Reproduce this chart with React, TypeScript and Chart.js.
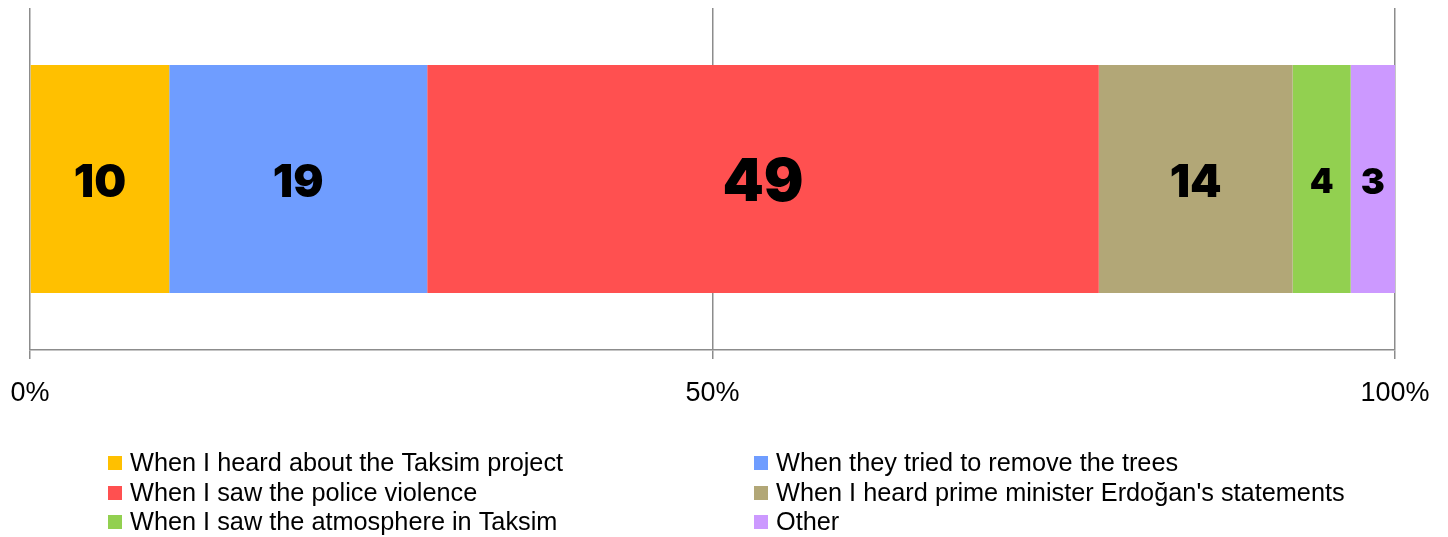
import React, { useEffect, useRef } from "react";
import { Chart, registerables } from "chart.js";

Chart.register(...registerables);

const categories = ["Responses"];
const seriesLabels = [
  "When I heard about the Taksim project",
  "When they tried to remove the trees",
  "When I saw the police violence",
  "When I heard prime minister Erdoğan's statements",
  "When I saw the atmosphere in Taksim",
  "Other",
];
// shares (%); labels show them rounded
const seriesValues = [10.2, 18.9, 49.2, 14.2, 4.25, 3.25];
const seriesColors = ["#FFC000", "#6F9DFF", "#FF5050", "#B2A777", "#92D050", "#CC99FF"];
const valueLabelSizes = [45, 45, 59, 45, 34, 36];
const tickValues = [0, 50, 100];

const total = seriesValues.reduce((a, b) => a + b, 0);

const valueLabelPlugin = {
  id: "valueLabels",
  afterDatasetsDraw(chart: any) {
    const ctx = chart.ctx;
    ctx.save();
    ctx.fillStyle = "#000";
    ctx.textAlign = "center";
    ctx.textBaseline = "middle";
    chart.data.datasets.forEach((ds: any, i: number) => {
      const meta = chart.getDatasetMeta(i);
      meta.data.forEach((el: any) => {
        const props = el.getProps(["x", "y", "base"], true);
        const cx = (props.x + props.base) / 2;
        ctx.font = `900 ${valueLabelSizes[i]}px "Inter", "Roboto", "DejaVu Sans", sans-serif`;
        ctx.fillText(String(Math.round(seriesValues[i])), cx, props.y + 4);
      });
    });
    ctx.restore();
  },
};

const legendPlugin = {
  id: "gridLegend",
  afterDraw(chart: any) {
    const ctx = chart.ctx;
    ctx.save();
    const colX = [100, 746];
    const rowY = [455, 485, 514];
    ctx.font = `25.3px "Liberation Sans", Arial, sans-serif`;
    ctx.textBaseline = "middle";
    ctx.textAlign = "left";
    chart.data.datasets.forEach((ds: any, i: number) => {
      const x = colX[i % 2];
      const y = rowY[Math.floor(i / 2)];
      ctx.fillStyle = ds.backgroundColor;
      ctx.fillRect(x, y - 7, 14, 14);
      ctx.fillStyle = "#000";
      ctx.fillText(ds.label, x + 22, y + 1);
    });
    ctx.restore();
  },
};

export default function App() {
  const ref = useRef<HTMLCanvasElement>(null);
  useEffect(() => {
    if (!ref.current) return;
    const chart = new Chart(ref.current, {
      type: "bar",
      data: {
        labels: categories,
        datasets: seriesLabels.map((label, i) => ({
          label,
          data: [(seriesValues[i] / total) * 100],
          backgroundColor: seriesColors[i],
          borderWidth: 0,
          barPercentage: 0.667,
          categoryPercentage: 1,
        })),
      },
      options: {
        indexAxis: "y",
        animation: false,
        responsive: true,
        maintainAspectRatio: false,
        layout: { padding: { left: 22, right: 45, top: 0, bottom: 117 } },
        plugins: { legend: { display: false }, tooltip: { enabled: false } },
        scales: {
          x: {
            stacked: true,
            min: 0,
            max: 100,
            afterBuildTicks(scale: any) {
              scale.ticks = tickValues.map((v) => ({ value: v }));
            },
            afterFit(scale: any) {
              scale.height = 70;
              scale.paddingLeft = 0;
              scale.paddingRight = 0;
            },
            grid: {
              color: "#8c8c8c",
              lineWidth: 1.5,
              drawTicks: true,
              tickLength: 9,
              tickColor: "#8c8c8c",
            },
            border: { display: true, color: "#8c8c8c", width: 1.5 },
            ticks: {
              padding: 18,
              maxRotation: 0,
              color: "#000",
              font: { family: '"Liberation Sans", Arial, sans-serif', size: 27 },
              callback: (v: any) => v + "%",
            },
          },
          y: {
            stacked: true,
            display: false,
          },
        },
      },
      plugins: [valueLabelPlugin, legendPlugin],
    });
    return () => chart.destroy();
  }, []);
  return (
    <div style={{ width: 1432, height: 529, position: "relative" }}>
      <canvas ref={ref} />
    </div>
  );
}
